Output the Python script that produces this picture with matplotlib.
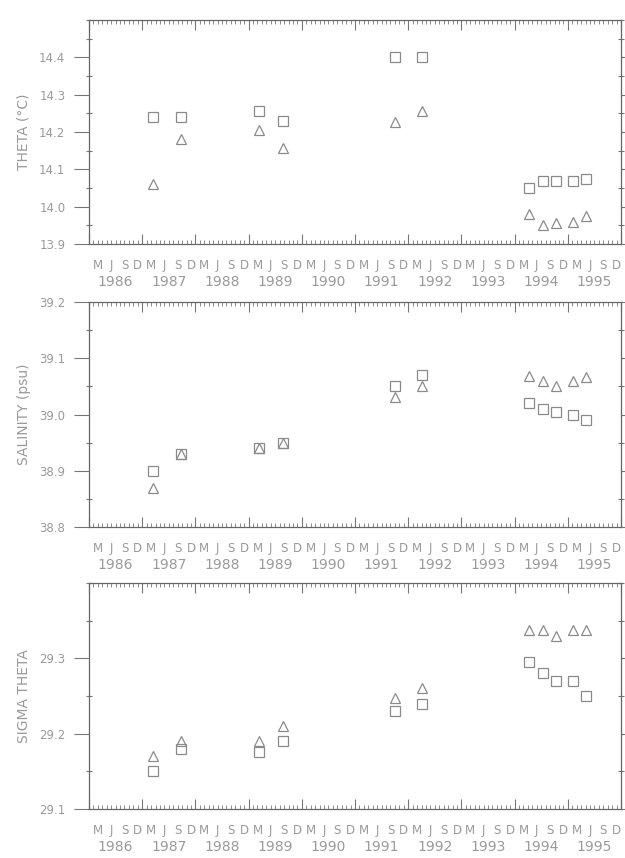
import matplotlib.pyplot as plt
from matplotlib.ticker import MultipleLocator

# sampling dates (decimal years)
dates = [1987.20, 1987.72, 1989.19, 1989.64, 1991.75, 1992.26,
         1994.28, 1994.53, 1994.78, 1995.10, 1995.34]

# squares and triangles for each variable
theta_sq = [14.24, 14.24, 14.255, 14.23, 14.40, 14.40, 14.05, 14.07, 14.07, 14.07, 14.075]
theta_tri = [14.06, 14.18, 14.205, 14.157, 14.227, 14.257, 13.98, 13.95, 13.956, 13.96, 13.975]

sal_sq = [38.90, 38.93, 38.94, 38.95, 39.051, 39.07, 39.02, 39.01, 39.005, 39.00, 38.99]
sal_tri = [38.87, 38.93, 38.94, 38.95, 39.032, 39.05, 39.068, 39.06, 39.05, 39.06, 39.067]

sig_sq = [29.15, 29.18, 29.176, 29.19, 29.23, 29.24, 29.295, 29.28, 29.27, 29.27, 29.25]
sig_tri = [29.17, 29.19, 29.19, 29.21, 29.248, 29.26, 29.337, 29.337, 29.33, 29.337, 29.337]

years = list(range(1986, 1996))
month_letters = ["M", "J", "S", "D"]
month_pos = [2 / 12, 5 / 12, 8 / 12, 11 / 12]

ylabels = ["THETA (°C)", "SALINITY (psu)", "SIGMA THETA"]
ylims = [(13.9, 14.5), (38.8, 39.2), (29.1, 29.4)]
yticks = [[13.9, 14.0, 14.1, 14.2, 14.3, 14.4],
          [38.8, 38.9, 39.0, 39.1, 39.2],
          [29.1, 29.2, 29.3]]

grey = "#8a8a8a"
txt = "#9a9a9a"

fig = plt.figure(figsize=(6.25, 8.58), dpi=100)
W, H = 625, 858
boxes = [(20, 244), (302, 527), (583, 809)]
left, right = 89, 621

panels = [(theta_sq, theta_tri), (sal_sq, sal_tri), (sig_sq, sig_tri)]

for i, (top, bot) in enumerate(boxes):
	ax = fig.add_axes([left / W, 1 - bot / H, (right - left) / W, (bot - top) / H])
	sq, tri = panels[i]
	ax.plot(dates, sq, ls="none", marker="s", ms=7, mfc="none", mec=grey, mew=0.9)
	ax.plot(dates, tri, ls="none", marker="^", ms=7, mfc="none", mec=grey, mew=0.9)

	ax.set_xlim(1986, 1996)
	ax.set_ylim(*ylims[i])
	ax.set_yticks(yticks[i])
	ax.yaxis.set_minor_locator(MultipleLocator(0.05))
	ax.yaxis.set_major_formatter(plt.FormatStrFormatter("%.1f"))
	ax.xaxis.set_major_locator(MultipleLocator(1))
	ax.xaxis.set_minor_locator(MultipleLocator(1 / 12))
	ax.set_xticklabels([])

	for s in ax.spines.values():
		s.set_color("#666666")
		s.set_linewidth(0.9)

	ax.tick_params(axis="y", which="major", direction="out", length=11, width=0.8,
				   colors="#777777", labelcolor=txt, labelsize=8.5, pad=6, right=True)
	ax.tick_params(axis="y", which="minor", direction="inout", length=4, width=0.8,
				   colors="#777777", right=True)
	ax.tick_params(axis="x", which="major", direction="in", length=7, width=0.8,
				   colors="#777777", top=True)
	ax.tick_params(axis="x", which="minor", direction="in", length=3, width=0.6,
				   colors="#777777", top=True)

	ax.set_ylabel(ylabels[i], color=txt, fontsize=10, labelpad=6)

	# month letters and year labels under the axis
	tr = ax.get_xaxis_transform()
	for y in years:
		for m, p in zip(month_letters, month_pos):
			ax.text(y + p, -0.095, m, transform=tr, ha="center", va="center",
					fontsize=8.5, color=txt)
		ax.text(y + 0.5, -0.17, str(y), transform=tr, ha="center", va="center",
				fontsize=10, color=txt)

fig.savefig("out.png", dpi=100)
